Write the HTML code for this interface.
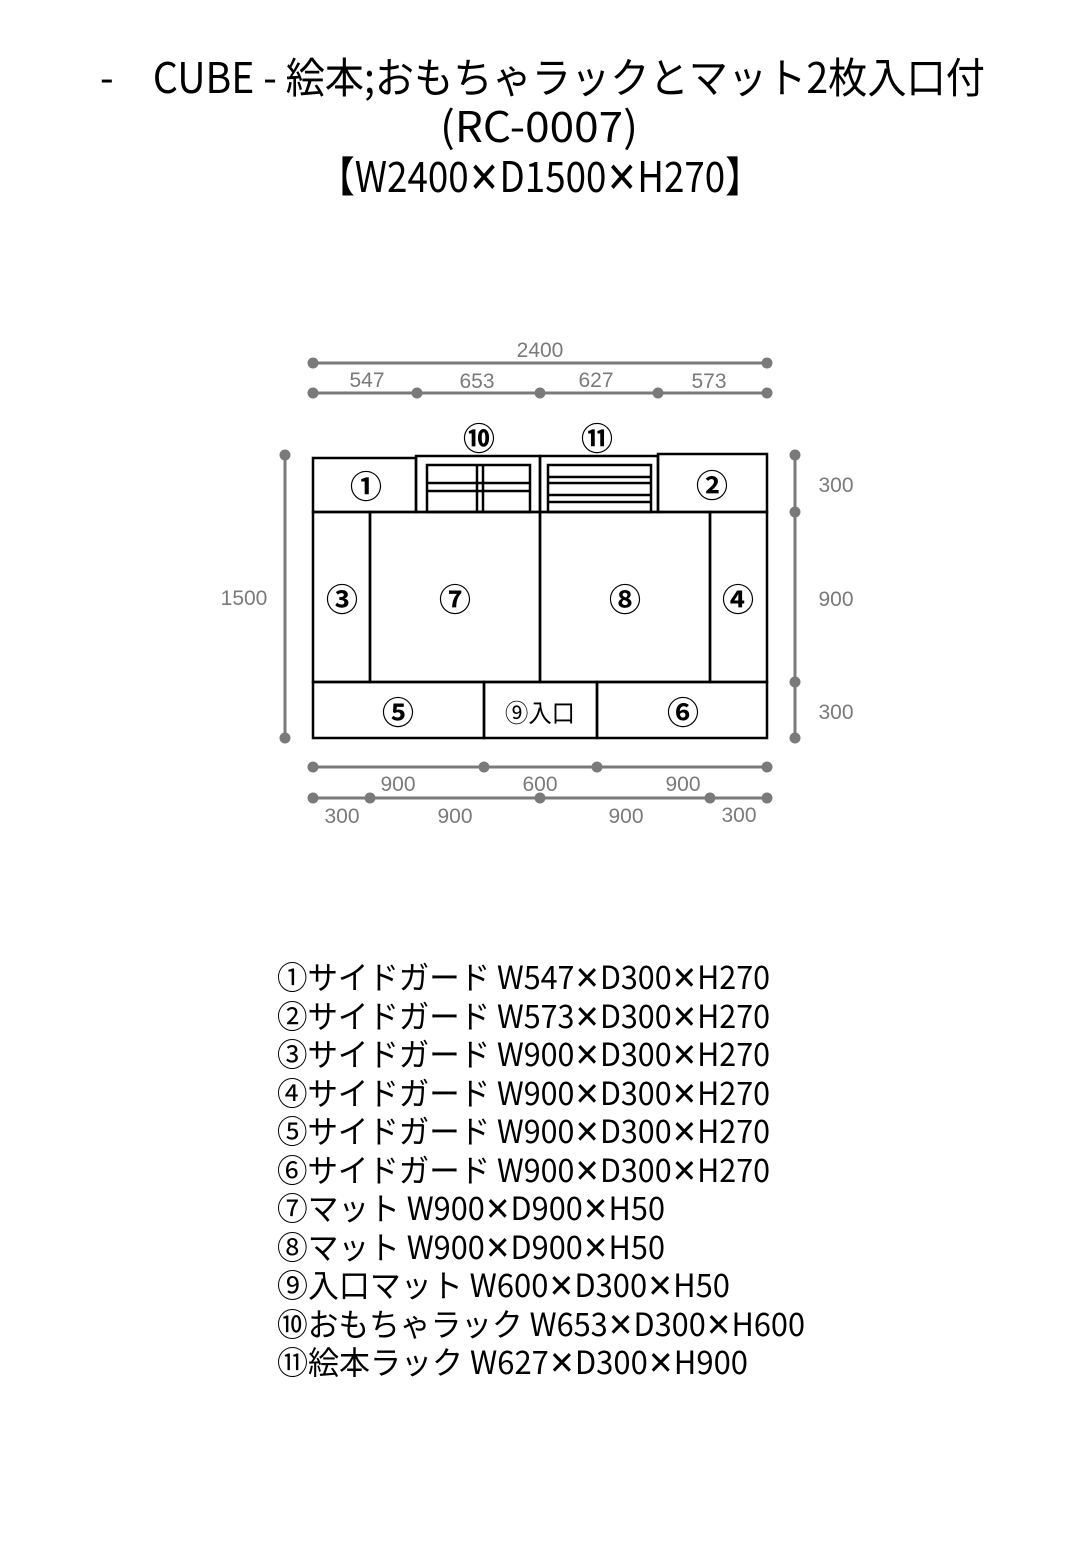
<!DOCTYPE html>
<html><head><meta charset="utf-8"><style>
html,body{margin:0;padding:0;background:#fff;}
svg{display:block;}
.t{font-family:"Noto Sans CJK JP","Liberation Sans",sans-serif;fill:#000;}
.d{font-family:"Liberation Sans",sans-serif;fill:#7a7a7a;font-size:21px;text-anchor:middle;}
.c{font-family:"Noto Sans CJK JP",sans-serif;font-size:32px;text-anchor:middle;fill:#000;font-weight:bold;}
</style></head><body>
<svg width="1080" height="1560" viewBox="0 0 1080 1560" xmlns="http://www.w3.org/2000/svg">
<text class="t" x="100" y="93" font-size="42" textLength="885" lengthAdjust="spacingAndGlyphs">-　CUBE - 絵本;おもちゃラックとマット2枚入口付</text>
<text class="t" x="440" y="142" font-size="42" textLength="198" lengthAdjust="spacingAndGlyphs">(RC-0007)</text>
<text class="t" x="318" y="192" font-size="42" textLength="444" lengthAdjust="spacingAndGlyphs">【W2400✕D1500✕H270】</text>

<g stroke="#7a7a7a" stroke-width="3" fill="#7a7a7a">
<line x1="313" y1="363" x2="767" y2="363"/>
<circle cx="313" cy="363" r="4"/><circle cx="767" cy="363" r="4"/>
<line x1="313" y1="393" x2="767" y2="393"/>
<circle cx="313" cy="393" r="4"/><circle cx="417" cy="393" r="4"/><circle cx="540" cy="393" r="4"/><circle cx="658" cy="393" r="4"/><circle cx="767" cy="393" r="4"/>
<line x1="285" y1="455" x2="285" y2="738"/>
<circle cx="285" cy="455" r="4"/><circle cx="285" cy="738" r="4"/>
<line x1="795" y1="455" x2="795" y2="738"/>
<circle cx="795" cy="455" r="4"/><circle cx="795" cy="512" r="4"/><circle cx="795" cy="682" r="4"/><circle cx="795" cy="738" r="4"/>
<line x1="313" y1="767" x2="767" y2="767"/>
<circle cx="313" cy="767" r="4"/><circle cx="484" cy="767" r="4"/><circle cx="597" cy="767" r="4"/><circle cx="767" cy="767" r="4"/>
<line x1="313" y1="798" x2="767" y2="798"/>
<circle cx="313" cy="798" r="4"/><circle cx="370" cy="798" r="4"/><circle cx="540" cy="798" r="4"/><circle cx="710" cy="798" r="4"/><circle cx="767" cy="798" r="4"/>
</g>
<g>
<text class="d" x="540" y="357">2400</text>
<text class="d" x="367" y="387">547</text><text class="d" x="477" y="388">653</text><text class="d" x="596" y="387">627</text><text class="d" x="709" y="388">573</text>
<text class="d" x="244" y="605">1500</text>
<text class="d" x="836" y="492">300</text><text class="d" x="836" y="606">900</text><text class="d" x="836" y="719">300</text>
<text class="d" x="398" y="791">900</text><text class="d" x="540" y="791">600</text><text class="d" x="683" y="791">900</text>
<text class="d" x="342" y="823">300</text><text class="d" x="455" y="823">900</text><text class="d" x="626" y="823">900</text><text class="d" x="739" y="822">300</text>
</g>

<g stroke="#000" stroke-width="2.5" fill="none">
<rect x="313" y="458" width="103" height="54"/>
<rect x="416" y="456" width="124" height="56"/>
<rect x="427" y="465" width="103" height="47"/>
<line x1="477" y1="465" x2="477" y2="512"/><line x1="483" y1="465" x2="483" y2="512"/>
<line x1="427" y1="483" x2="530" y2="483"/><line x1="427" y1="491" x2="530" y2="491"/>
<rect x="540" y="456" width="118" height="56"/>
<rect x="548" y="465" width="103" height="47"/>
<line x1="548" y1="477" x2="651" y2="477"/><line x1="548" y1="483" x2="651" y2="483"/>
<line x1="548" y1="495" x2="651" y2="495"/><line x1="548" y1="502" x2="651" y2="502"/>
<rect x="658" y="454" width="109" height="58"/>
<rect x="313" y="512" width="57" height="170"/>
<rect x="370" y="512" width="170" height="170"/>
<rect x="540" y="512" width="170" height="170"/>
<rect x="710" y="512" width="57" height="170"/>
<rect x="313" y="682" width="171" height="56"/>
<rect x="484" y="682" width="113" height="56"/>
<rect x="597" y="682" width="170" height="56"/>
</g>
<text class="c" x="479" y="450">⑩</text><text class="c" x="597" y="450">⑪</text>
<text class="c" x="366" y="498">①</text><text class="c" x="712" y="497">②</text>
<text class="c" x="342" y="611">③</text><text class="c" x="455" y="611">⑦</text><text class="c" x="625" y="611">⑧</text><text class="c" x="738" y="611">④</text>
<text class="c" x="398" y="724">⑤</text><text class="c" x="683" y="724">⑥</text>
<text class="t" x="505" y="722" font-size="25" textLength="70" lengthAdjust="spacingAndGlyphs">⑨入口</text>

<g class="t" font-size="32">
<text x="277" y="989" textLength="493" lengthAdjust="spacingAndGlyphs">①サイドガード W547✕D300✕H270</text>
<text x="277" y="1028" textLength="493" lengthAdjust="spacingAndGlyphs">②サイドガード W573✕D300✕H270</text>
<text x="277" y="1066" textLength="493" lengthAdjust="spacingAndGlyphs">③サイドガード W900✕D300✕H270</text>
<text x="277" y="1105" textLength="493" lengthAdjust="spacingAndGlyphs">④サイドガード W900✕D300✕H270</text>
<text x="277" y="1143" textLength="493" lengthAdjust="spacingAndGlyphs">⑤サイドガード W900✕D300✕H270</text>
<text x="277" y="1182" textLength="493" lengthAdjust="spacingAndGlyphs">⑥サイドガード W900✕D300✕H270</text>
<text x="277" y="1220" textLength="388" lengthAdjust="spacingAndGlyphs">⑦マット W900✕D900✕H50</text>
<text x="277" y="1259" textLength="388" lengthAdjust="spacingAndGlyphs">⑧マット W900✕D900✕H50</text>
<text x="277" y="1297" textLength="453" lengthAdjust="spacingAndGlyphs">⑨入口マット W600✕D300✕H50</text>
<text x="277" y="1336" textLength="528" lengthAdjust="spacingAndGlyphs">⑩おもちゃラック W653✕D300✕H600</text>
<text x="277" y="1374" textLength="471" lengthAdjust="spacingAndGlyphs">⑪絵本ラック W627✕D300✕H900</text>
</g>
</svg>
</body></html>
